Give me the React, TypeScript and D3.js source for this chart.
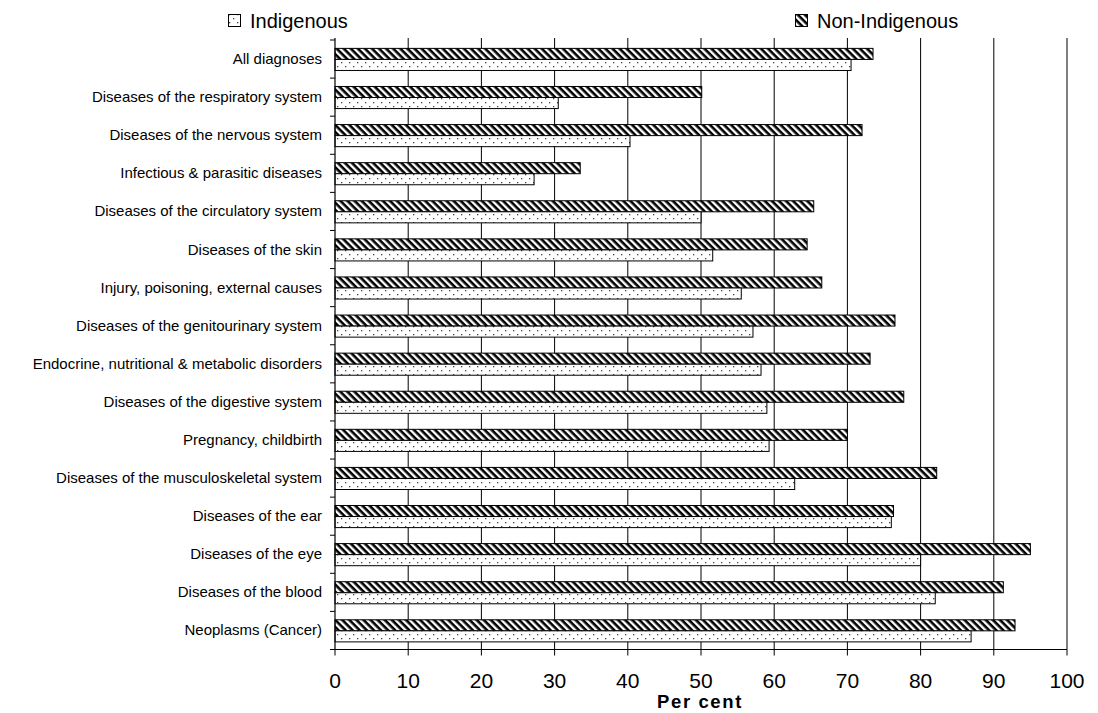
import React from "react";
import * as d3 from "d3";

const categories = [
  "All diagnoses",
  "Diseases of the respiratory system",
  "Diseases of the nervous system",
  "Infectious & parasitic diseases",
  "Diseases of the circulatory system",
  "Diseases of the skin",
  "Injury, poisoning, external causes",
  "Diseases of the genitourinary system",
  "Endocrine, nutritional & metabolic disorders",
  "Diseases of the digestive system",
  "Pregnancy, childbirth",
  "Diseases of the musculoskeletal system",
  "Diseases of the ear",
  "Diseases of the eye",
  "Diseases of the blood",
  "Neoplasms (Cancer)",
];

const indigenous = [70.5, 30.5, 40.3, 27.2, 50.0, 51.6, 55.5, 57.1, 58.2, 59.0, 59.3, 62.8, 76.0, 80.0, 82.0, 86.9];
const nonIndigenous = [73.5, 50.1, 72.0, 33.5, 65.4, 64.5, 66.5, 76.5, 73.1, 77.7, 70.0, 82.2, 76.3, 95.0, 91.3, 92.9];

const xTicks = [0, 10, 20, 30, 40, 50, 60, 70, 80, 90, 100];
const seriesNames = ["Indigenous", "Non-Indigenous"];

const W = 1098;
const H = 713;
const FONT = "'Liberation Sans', Arial, Helvetica, sans-serif";

export default function App() {
  const x = d3.scaleLinear().domain([0, 100]).range([335, 1067]);
  const y = d3.scaleBand<string>().domain(categories).range([40, 649.5]).paddingInner(0).paddingOuter(0);
  const bw = y.bandwidth();
  const barH = bw * 0.29;
  const off = bw * 0.22;
  const x0 = x(0);
  const yBottom = 649.5;

  return (
    <svg width={W} height={H} style={{ position: "absolute", left: 0, top: 0, background: "#fff" }} fontFamily={FONT}>
      <defs>
        <pattern id="hatch" patternUnits="userSpaceOnUse" width="5" height="5" patternTransform="rotate(45)">
          <rect width="5" height="5" fill="#fff" />
          <rect x="0" y="0" width="5" height="2.6" fill="#000" />
        </pattern>
        <pattern id="dots" patternUnits="userSpaceOnUse" width="8" height="8">
          <rect width="8" height="8" fill="#fff" />
          <rect x="1" y="2" width="1.3" height="1.3" fill="#444" />
          <rect x="5" y="6" width="1.3" height="1.3" fill="#444" />
        </pattern>
      </defs>

      {/* gridlines */}
      {xTicks.filter((t) => t > 0).map((t) => (
        <line key={"g" + t} x1={x(t)} x2={x(t)} y1={38} y2={yBottom} stroke="#000" strokeWidth={1} />
      ))}

      {/* bars */}
      {categories.map((c, i) => {
        const yb = y(c) as number;
        return (
          <g key={c}>
            <rect x={x0} y={yb + off} width={x(nonIndigenous[i]) - x0} height={barH} fill="url(#hatch)" stroke="#000" strokeWidth={1} />
            <rect x={x0} y={yb + off + barH} width={x(indigenous[i]) - x0} height={barH} fill="url(#dots)" stroke="#000" strokeWidth={1} />
          </g>
        );
      })}

      {/* left axis */}
      <line x1={x0} x2={x0} y1={38} y2={yBottom} stroke="#000" strokeWidth={1.2} />
      {categories.map((c) => (
        <line key={"t" + c} x1={x0 - 5} x2={x0} y1={y(c) as number} y2={y(c) as number} stroke="#000" />
      ))}
      {categories.map((c) => (
        <text key={"l" + c} x={322} y={(y(c) as number) + bw / 2 + 5} textAnchor="end" fontSize={15} fill="#000">
          {c}
        </text>
      ))}

      {/* bottom axis */}
      <line x1={x0 - 5} x2={x(100)} y1={yBottom} y2={yBottom} stroke="#000" strokeWidth={1.2} />
      {xTicks.map((t) => (
        <g key={"x" + t}>
          <line x1={x(t)} x2={x(t)} y1={yBottom} y2={yBottom + 6} stroke="#000" />
          <text x={x(t)} y={688} textAnchor="middle" fontSize={21} fill="#000">
            {t}
          </text>
        </g>
      ))}
      <text x={700} y={708} textAnchor="middle" fontSize={18.5} fontWeight="bold" letterSpacing={1.6} fill="#000">
        Per cent
      </text>

      {/* legend */}
      <rect x={228.5} y={14.5} width={12} height={12} fill="url(#dots)" stroke="#000" />
      <text x={250} y={28} fontSize={20} fill="#000">{seriesNames[0]}</text>
      <rect x={795.5} y={14.5} width={12} height={12} fill="url(#hatch)" stroke="#000" />
      <text x={817} y={28} fontSize={20} fill="#000">{seriesNames[1]}</text>
    </svg>
  );
}
